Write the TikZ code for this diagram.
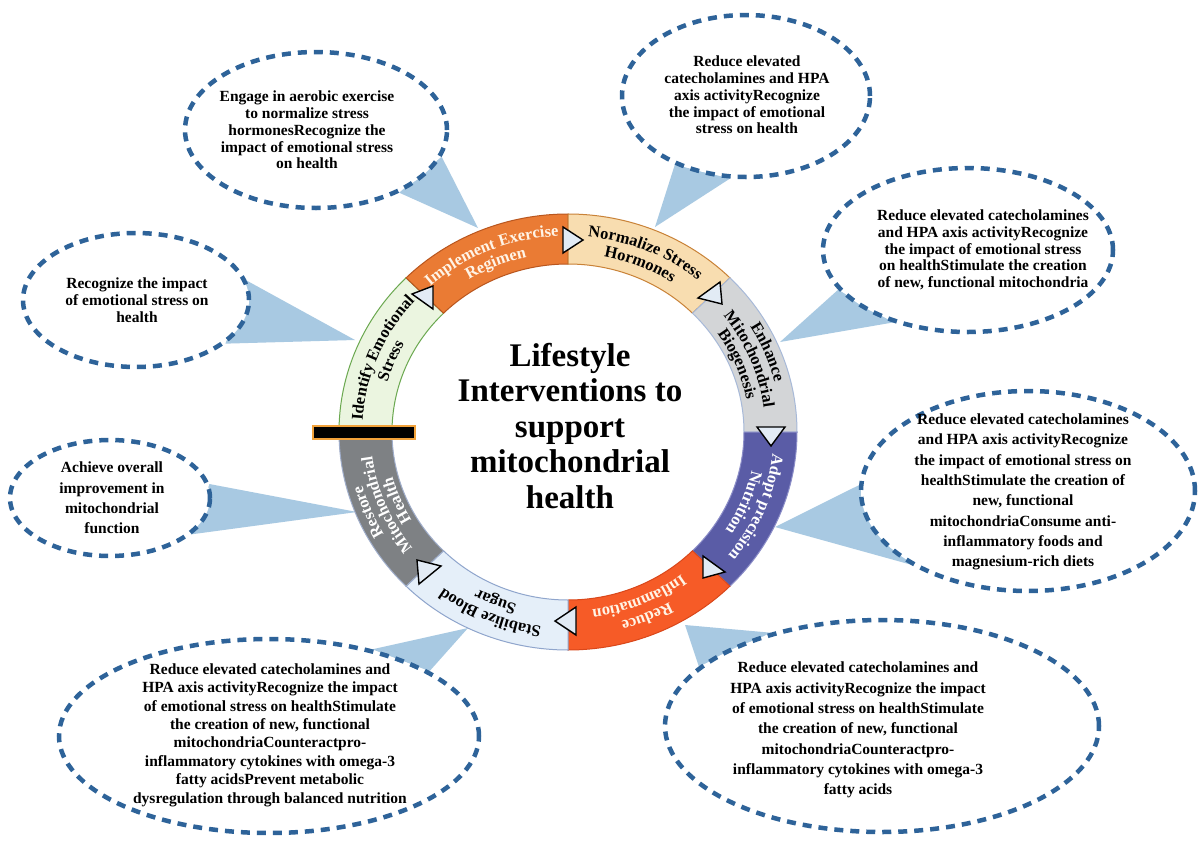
\documentclass[tikz,border=0pt]{standalone}
\usepackage{fontspec}
\setmainfont{Liberation Serif}
\usetikzlibrary{shapes.geometric,decorations.text,calc}
\pgfdeclarelayer{bg}
\pgfdeclarelayer{wedges}
\pgfsetlayers{bg,wedges,main}

\definecolor{dashblue}{HTML}{2E6399}
\definecolor{wedgeblue}{HTML}{A8C9E2}
\definecolor{trifill}{HTML}{E2EBF5}
\definecolor{barorange}{HTML}{F2A23A}
\definecolor{cIdF}{HTML}{EBF5E0}\definecolor{cIdD}{HTML}{6AA84F}
\definecolor{cImF}{HTML}{EA7B34}\definecolor{cImD}{HTML}{B9561E}
\definecolor{cNoF}{HTML}{F8DDB0}\definecolor{cNoD}{HTML}{C98237}
\definecolor{cEnF}{HTML}{D3D5D7}\definecolor{cEnD}{HTML}{A7B9D8}
\definecolor{cAdF}{HTML}{5A5CA6}\definecolor{cAdD}{HTML}{8C8EC8}
\definecolor{cReF}{HTML}{F65B27}\definecolor{cReD}{HTML}{D9471A}
\definecolor{cStF}{HTML}{E5EFF9}\definecolor{cStD}{HTML}{8FA5CC}
\definecolor{cRsF}{HTML}{7E8184}\definecolor{cRsD}{HTML}{A0AECB}
\definecolor{cream}{HTML}{FFF4E6}

\newcommand\ringseg[4]{%
  \filldraw[fill=#3,draw=#4,line width=1pt]
    ([shift={(#1:229pt and 218pt)}]C) arc[start angle=#1,end angle=#2,x radius=229pt,y radius=218pt]
    -- ([shift={(#2:176pt and 168pt)}]C) arc[start angle=#2,end angle=#1,x radius=176pt,y radius=168pt]
    -- cycle;}
\newcommand\arclabel[4]{%
  \pgfmathsetmacro\arcrx{1.05*#2}%
  \path[decorate,decoration={text along path,text align=center,text={|#3|#4}}]
    ([shift={(#1+32:\arcrx pt and #2pt)}]C)
    arc[start angle=#1+32,end angle=#1-32,x radius=\arcrx pt,y radius=#2pt];}
\newcommand\rfk{\fontsize{16.5}{16.5}\selectfont\bfseries\color{black}}
\newcommand\rfw{\fontsize{16.5}{16.5}\selectfont\bfseries\color{white}}
\newcommand\rfc{\fontsize{16.5}{16.5}\selectfont\bfseries\color{cream}}

\begin{document}
\begin{tikzpicture}[x=1pt,y=1pt,
  callout/.style={ellipse,draw=dashblue,fill=white,line width=4.5pt,dash pattern=on 9pt off 7pt,inner sep=0pt},
  ctext/.style={align=center,font=\fontsize{15.5}{16.7}\selectfont\bfseries,text=black,inner sep=0pt},
  ctextb/.style={align=center,font=\fontsize{15.5}{20.3}\selectfont\bfseries,text=black,inner sep=0pt},
  ctextc/.style={align=center,font=\fontsize{15.5}{18.4}\selectfont\bfseries,text=black,inner sep=0pt},
  wedgeshape/.style={fill=wedgeblue,draw=none},
  tri/.style={fill=trifill,draw=black,line width=1.4pt,line join=miter}]
\useasboundingbox (0,0) rectangle (1200,-846);
\begin{pgfonlayer}{bg}
\fill[white] (0,0) rectangle (1200,-846);
\end{pgfonlayer}
\coordinate (C) at (568,-432);

% callout ellipses
\node[callout,minimum width=262pt,minimum height=156pt] (e1) at (316,-130) {};
\node[callout,minimum width=248pt,minimum height=162pt] (e2) at (746,-96) {};
\node[callout,minimum width=290pt,minimum height=164pt] (e3) at (968,-250) {};
\node[callout,minimum width=226pt,minimum height=134pt] (e4) at (136,-300) {};
\node[callout,minimum width=334pt,minimum height=200pt] (e5) at (1028,-491) {};
\node[callout,minimum width=200pt,minimum height=116pt] (e6) at (110,-498) {};
\node[callout,minimum width=420pt,minimum height=194pt] (e7) at (269,-736) {};
\node[callout,minimum width=434pt,minimum height=212pt] (e8) at (882,-726) {};

% wedge tips on the ring
\coordinate (p1) at (478,-228);
\coordinate (p2) at (655,-227);
\coordinate (p3) at (780,-342);
\coordinate (p4) at (355,-340);
\coordinate (p5) at (775,-527);
\coordinate (p6) at (357,-512);
\coordinate (p7) at (468,-628);
\coordinate (p8) at (685,-625);

\begin{pgfonlayer}{wedges}
\fill[wedgeshape] (e1.-12) -- (p1) -- (e1.-37) -- cycle;
\fill[wedgeshape] (e2.-101) -- (p2) -- (e2.-136) -- cycle;
\fill[wedgeshape] (e3.-136) -- (p3) -- (e3.-163) -- cycle;
\fill[wedgeshape] (e4.10) -- (p4) -- (e4.-26) -- cycle;
\fill[wedgeshape] (e5.178) -- (p5) -- (e5.212) -- cycle;
\fill[wedgeshape] (e6.8) -- (p6) -- (e6.-24) -- cycle;
\fill[wedgeshape] (e7.22) -- (p7) -- (e7.40) -- cycle;
\fill[wedgeshape] (e8.162) -- (p8) -- (e8.140) -- cycle;
\end{pgfonlayer}

% callout texts
\node[ctext] (t1) at (307,-130) {Engage in aerobic exercise\\to normalize stress\\hormonesRecognize the\\impact of emotional stress\\on health};
\node[ctext] (t2) at (747,-95) {Reduce elevated\\catecholamines and HPA\\axis activityRecognize\\the impact of emotional\\stress on health};
\node[ctext] (t3) at (983,-250) {Reduce elevated catecholamines\\and HPA axis activityRecognize\\the impact of emotional stress\\on healthStimulate the creation\\of new, functional mitochondria};
\node[ctext] (t4) at (137,-300) {Recognize the impact\\of emotional stress on\\health};
\node[ctextb] (t5) at (1023,-492) {Reduce elevated catecholamines\\and HPA axis activityRecognize\\the impact of emotional stress on\\healthStimulate the creation of\\new, functional\\mitochondriaConsume anti-\\inflammatory foods and\\magnesium-rich diets};
\node[ctextb] (t6) at (112,-498) {Achieve overall\\improvement in\\mitochondrial\\function};
\node[ctextc] (t7) at (270,-735) {Reduce elevated catecholamines and\\HPA axis activityRecognize the impact\\of emotional stress on healthStimulate\\the creation of new, functional\\mitochondriaCounteractpro-\\inflammatory cytokines with omega-3\\fatty acidsPrevent metabolic\\dysregulation through balanced nutrition};
\node[ctextb] (t8) at (858,-730) {Reduce elevated catecholamines and\\HPA axis activityRecognize the impact\\of emotional stress on healthStimulate\\the creation of new, functional\\mitochondriaCounteractpro-\\inflammatory cytokines with omega-3\\fatty acids};

% ring segments
\ringseg{135}{180}{cIdF}{cIdD}
\ringseg{90}{135}{cImF}{cImD}
\ringseg{45}{90}{cNoF}{cNoD}
\ringseg{0}{45}{cEnF}{cEnD}
\ringseg{-45}{0}{cAdF}{cAdD}
\ringseg{-90}{-45}{cReF}{cReD}
\ringseg{-135}{-90}{cStF}{cStD}
\ringseg{-180}{-135}{cRsF}{cRsD}

% segment labels
\arclabel{157.5}{196}{\rfk}{Identify Emotional}
\arclabel{157.5}{179}{\rfk}{Stress}
\arclabel{112.5}{196}{\rfc}{Implement Exercise}
\arclabel{112.5}{179}{\rfc}{Regimen}
\arclabel{67.5}{196}{\rfk}{Normalize Stress}
\arclabel{67.5}{179}{\rfk}{Hormones}
\arclabel{22.5}{203}{\rfk}{Enhance}
\arclabel{22.5}{188}{\rfk}{Mitochondrial}
\arclabel{22.5}{173}{\rfk}{Biogenesis}
\arclabel{-22.5}{196}{\rfw}{Adopt precision}
\arclabel{-22.5}{179}{\rfw}{Nutrition}
\arclabel{-67.5}{196}{\rfc}{Reduce}
\arclabel{-67.5}{179}{\rfc}{Inflammation}
\arclabel{-112.5}{196}{\rfk}{Stabilize Blood}
\arclabel{-112.5}{179}{\rfk}{Sugar}
\arclabel{-157.5}{203}{\rfw}{Restore}
\arclabel{-157.5}{188}{\rfw}{Mitochondrial}
\arclabel{-157.5}{173}{\rfw}{Health}

% triangles at the seams
\draw[tri] (563,-227) -- (583,-240) -- (563,-253) -- cycle;
\draw[tri] (720,-282) -- (722,-304) -- (698,-298) -- cycle;
\draw[tri] (757,-427) -- (785,-427) -- (771,-446) -- cycle;
\draw[tri] (703,-556) -- (725,-572) -- (703,-578) -- cycle;
\draw[tri] (576,-607) -- (576,-635) -- (555,-621) -- cycle;
\draw[tri] (417,-560) -- (441,-566) -- (419,-584) -- cycle;
\draw[tri] (433,-286) -- (433,-309) -- (412,-294) -- cycle;

% bar
\node[fill=black,draw=barorange,line width=1.5pt,minimum width=102pt,minimum height=13pt,inner sep=0pt] (bar) at (364,-432.5) {};

% title
\node[align=center,font=\fontsize{33}{35.5}\selectfont\bfseries,inner sep=0pt] (title) at (570,-426) {Lifestyle\\Interventions to\\support\\mitochondrial\\health};
\end{tikzpicture}
\end{document}
